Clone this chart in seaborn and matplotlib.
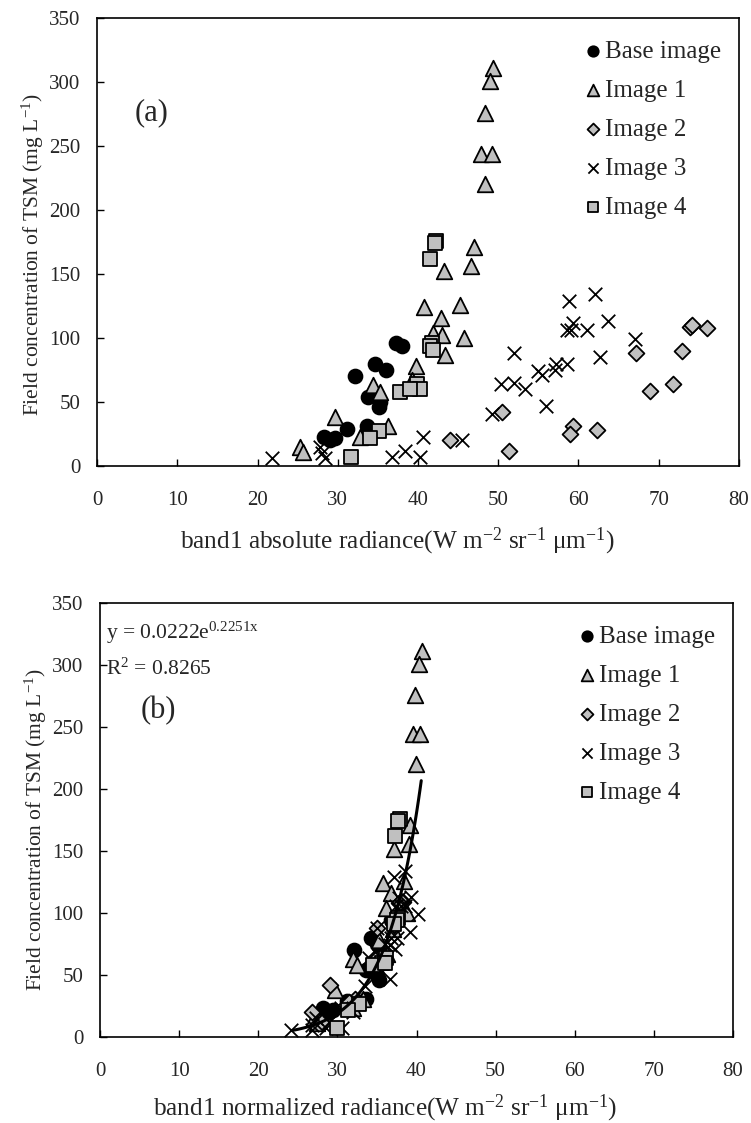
import numpy as np
import pandas as pd
import matplotlib.pyplot as plt
import seaborn as sns

# field TSM (mg/L) with band1 absolute (a) and normalized (b) radiance per image
base_tsm = [96, 94, 80, 75, 70, 54, 50, 46, 29, 31, 23, 20, 22]
base_abs = [37.3, 38.0, 34.6, 36.0, 32.2, 33.8, 35.3, 35.2, 31.1, 33.6, 28.3, 29.0, 29.7]
base_norm = [37.0, 36.8, 34.3, 35.0, 32.1, 33.6, 35.0, 35.2, 31.2, 33.6, 28.2, 29.0, 29.5]

img1_tsm = [311, 301, 276, 244, 244, 220, 171, 152, 156, 124, 126, 116, 104, 102, 100,
            87, 78, 67, 63, 58, 38, 31, 23, 15, 11]
img1_abs = [49.4, 49.0, 48.3, 47.8, 49.2, 48.3, 47.0, 43.2, 46.6, 40.8, 45.2, 42.9, 41.9, 43.0, 45.7,
            43.4, 39.8, 39.2, 34.4, 35.3, 29.7, 36.3, 32.8, 25.3, 25.7]
img1_norm = [40.7, 40.3, 39.8, 39.5, 40.5, 39.9, 39.2, 37.1, 39.1, 35.8, 38.4, 36.8, 36.1, 37.6, 38.8,
             37.0, 35.2, 36.3, 32.0, 32.5, 29.7, 33.2, 32.0, 27.0, 27.4]

img2_tsm = [109, 110, 108, 88, 90, 59, 64, 42, 31, 25, 28, 20, 12]
img2_abs = [73.9, 74.2, 76.0, 67.2, 72.9, 68.9, 71.8, 50.5, 59.3, 59.0, 62.3, 44.0, 51.3]
img2_norm = [38.3, 38.0, 37.8, 35.0, 37.2, 35.5, 34.8, 29.1, 32.2, 31.0, 31.5, 26.8, 28.0]

img3_tsm = [134, 129, 113, 112, 106, 106, 106, 99, 88, 85, 80, 80, 75, 74, 71,
            64, 65, 60, 47, 41, 20, 23, 12, 7, 7, 6, 15, 10, 6]
img3_abs = [62.1, 58.8, 63.7, 59.3, 58.6, 59.1, 61.1, 67.0, 52.0, 62.7, 58.6, 57.2, 57.1, 55.0, 55.4,
            50.4, 52.0, 53.3, 56.0, 49.2, 45.5, 40.6, 38.4, 36.7, 40.2, 21.8, 27.8, 28.0, 28.4]
img3_norm = [38.6, 37.1, 39.3, 37.8, 37.4, 38.0, 38.6, 40.2, 35.0, 39.2, 36.8, 37.5, 36.0, 36.7, 37.3,
             34.0, 35.2, 34.5, 36.6, 33.5, 32.0, 30.5, 29.0, 30.6, 28.5, 24.2, 27.3, 26.8, 26.8]

img4_tsm = [176, 174, 162, 96, 94, 91, 64, 60, 58, 60, 27, 22, 7]
img4_abs = [42.3, 42.1, 41.5, 41.8, 41.5, 41.9, 39.9, 40.3, 37.8, 39.0, 35.2, 34.0, 31.7]
img4_norm = [37.9, 37.7, 37.3, 37.7, 37.5, 37.2, 36.2, 35.6, 34.5, 36.0, 32.7, 31.4, 29.9]

labels = ['Base image', 'Image 1', 'Image 2', 'Image 3', 'Image 4']

# exponential trend shown in panel (b)
fit_a, fit_b = 0.0222, 0.2251
fit_xmin, fit_xmax = 24.4, 40.6

sns.set_theme(style='ticks')
plt.rcParams['font.family'] = ['Liberation Serif', 'DejaVu Serif']
plt.rcParams['mathtext.fontset'] = 'custom'
plt.rcParams['mathtext.rm'] = 'Liberation Serif'
plt.rcParams['mathtext.it'] = 'Liberation Serif'
plt.rcParams['xtick.direction'] = 'in'
plt.rcParams['ytick.direction'] = 'in'

fig = plt.figure(figsize=(7.51, 11.23), dpi=100)
ax_a = fig.add_axes([0.1292, 0.585, 0.8548, 0.399])
ax_b = fig.add_axes([0.1332, 0.0766, 0.8428, 0.3864])

styles = [
    dict(marker='o', color='black', edgecolor='black', s=100),
    dict(marker='^', color='#c0c0c0', edgecolor='black', s=125),
    dict(marker='D', color='#c0c0c0', edgecolor='black', s=65),
    dict(marker='x', color='black', s=95),
    dict(marker='s', color='#c0c0c0', edgecolor='black', s=105),
]

series_a = [(base_abs, base_tsm), (img1_abs, img1_tsm), (img2_abs, img2_tsm),
            (img3_abs, img3_tsm), (img4_abs, img4_tsm)]
series_b = [(base_norm, base_tsm), (img1_norm, img1_tsm), (img2_norm, img2_tsm),
            (img3_norm, img3_tsm), (img4_norm, img4_tsm)]

for ax, series in [(ax_a, series_a), (ax_b, series_b)]:
    for (xs, ys), lab, st in zip(series, labels, styles):
        df = pd.DataFrame({'x': xs, 'y': ys})
        sns.scatterplot(data=df, x='x', y='y', ax=ax, label=lab, linewidth=1.3, zorder=3, **st)

# trend line in (b)
fx = np.linspace(fit_xmin, fit_xmax, 100)
trend = pd.DataFrame({'x': fx, 'y': fit_a * np.exp(fit_b * fx)})
sns.lineplot(data=trend, x='x', y='y', ax=ax_b, color='black', linewidth=2.2, zorder=4, legend=False)

xlabels = ['band1 absolute radiance(W m$^{-2}$ sr$^{-1}$ \u03bcm$^{-1}$)',
           'band1 normalized radiance(W m$^{-2}$ sr$^{-1}$ \u03bcm$^{-1}$)']
xlab_pos = [(0.467, -0.132), (0.45, -0.128)]
ylab_pos = [(-0.08, 0.473), (-0.08, 0.477)]
for ax, xl, xp, yp in zip([ax_a, ax_b], xlabels, xlab_pos, ylab_pos):
    ax.set_xlim(0, 80)
    ax.set_ylim(0, 350)
    ax.set_xticks(range(0, 81, 10))
    ax.set_yticks(range(0, 351, 50))
    ax.tick_params(labelsize=15, length=5, width=1, color='black', top=False, right=False)
    ax.tick_params(axis='x', pad=18)
    ax.tick_params(axis='y', pad=12)
    ax.set_xlabel(xl, fontsize=18.2)
    ax.set_ylabel('Field concentration of TSM (mg L$^{-1}$)', fontsize=15.5)
    ax.xaxis.set_label_coords(*xp)
    ax.yaxis.set_label_coords(*yp)
    for sp in ax.spines.values():
        sp.set_color('black')
        sp.set_linewidth(1.2)
    ax.legend(loc='upper right', bbox_to_anchor=(1.0, 0.989), frameon=False, fontsize=18,
              handlelength=0.6, handletextpad=0.2, labelspacing=0.66, borderaxespad=0.3,
              markerscale=0.75)

ax_a.text(4.7, 276, '(a)', fontsize=22, va='center')
ax_b.text(5.1, 263, '(b)', fontsize=22, va='center')
ax_b.text(0.7, 326, 'y = 0.0222e$\\mathregular{^{0.2251x}}$', fontsize=15.5, va='center')
ax_b.text(0.7, 297, 'R$\\mathregular{^{2}}$ = 0.8265', fontsize=15.5, va='center')

fig.savefig('out.png', dpi=100)
